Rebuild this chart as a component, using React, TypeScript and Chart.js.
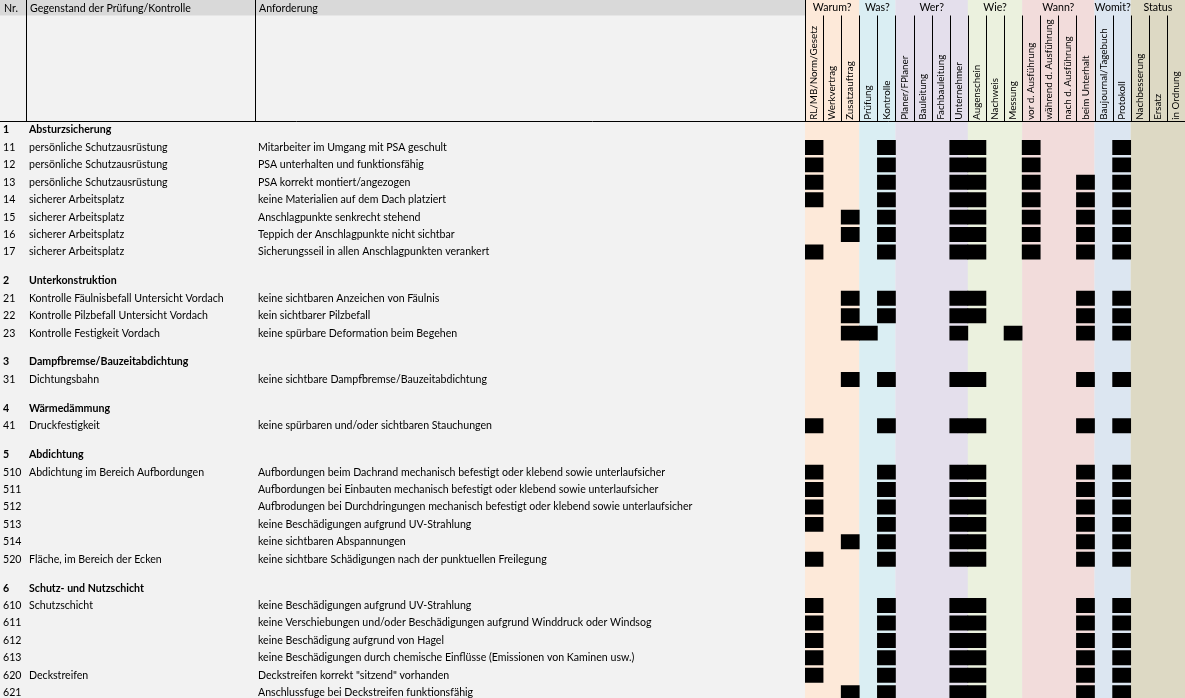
import React, { useEffect, useRef } from 'react';
import { Chart, registerables } from 'chart.js';

Chart.register(...registerables);

// ---------- data ----------
const headerLabels = ['Nr.', 'Gegenstand der Prüfung/Kontrolle', 'Anforderung'];

const groupLabels = ['Warum?', 'Was?', 'Wer?', 'Wie?', 'Wann?', 'Womit?', 'Status'];
const groupSizes = [3, 2, 4, 3, 4, 2, 3];

const columnLabels = [
  'RL/MB/Norm/Gesetz', 'Werkvertrag', 'Zusatzauftrag',
  'Prüfung', 'Kontrolle',
  'Planer/FPlaner', 'Bauleitung', 'Fachbauleitung', 'Unternehmer',
  'Augenschein', 'Nachweis', 'Messung',
  'vor d. Ausführung', 'während d. Ausführung', 'nach d. Ausführung', 'beim Unterhalt',
  'Baujournal/Tagebuch', 'Protokoll',
  'Nachbesserung', 'Ersatz', 'in Ordnung',
];

const rowNr = [
  '1', '11', '12', '13', '14', '15', '16', '17', '',
  '2', '21', '22', '23', '',
  '3', '31', '',
  '4', '41', '',
  '5', '510', '511', '512', '513', '514', '520', '',
  '6', '610', '611', '612', '613', '620', '621',
];

const rowSubject = [
  'Absturzsicherung', 'persönliche Schutzausrüstung', 'persönliche Schutzausrüstung', 'persönliche Schutzausrüstung',
  'sicherer Arbeitsplatz', 'sicherer Arbeitsplatz', 'sicherer Arbeitsplatz', 'sicherer Arbeitsplatz', '',
  'Unterkonstruktion', 'Kontrolle Fäulnisbefall Untersicht Vordach', 'Kontrolle Pilzbefall Untersicht Vordach', 'Kontrolle Festigkeit Vordach', '',
  'Dampfbremse/Bauzeitabdichtung', 'Dichtungsbahn', '',
  'Wärmedämmung', 'Druckfestigkeit', '',
  'Abdichtung', 'Abdichtung im Bereich Aufbordungen', '', '', '', '', 'Fläche, im Bereich der Ecken', '',
  'Schutz- und Nutzschicht', 'Schutzschicht', '', '', '', 'Deckstreifen', '',
];

const rowRequirement = [
  '', 'Mitarbeiter im Umgang mit PSA geschult', 'PSA unterhalten und funktionsfähig', 'PSA korrekt montiert/angezogen',
  'keine Materialien auf dem Dach platziert', 'Anschlagpunkte senkrecht stehend', 'Teppich der Anschlagpunkte nicht sichtbar',
  'Sicherungsseil in allen Anschlagpunkten verankert', '',
  '', 'keine sichtbaren Anzeichen von Fäulnis', 'kein sichtbarer Pilzbefall', 'keine spürbare Deformation beim Begehen', '',
  '', 'keine sichtbare Dampfbremse/Bauzeitabdichtung', '',
  '', 'keine spürbaren und/oder sichtbaren Stauchungen', '',
  '', 'Aufbordungen beim Dachrand mechanisch befestigt oder klebend sowie unterlaufsicher',
  'Aufbordungen bei Einbauten mechanisch befestigt oder klebend sowie unterlaufsicher',
  'Aufbrodungen bei Durchdringungen mechanisch befestigt oder klebend sowie unterlaufsicher',
  'keine Beschädigungen aufgrund UV-Strahlung', 'keine sichtbaren Abspannungen',
  'keine sichtbare Schädigungen nach der punktuellen Freilegung', '',
  '', 'keine Beschädigungen aufgrund UV-Strahlung',
  'keine Verschiebungen und/oder Beschädigungen aufgrund Winddruck oder Windsog',
  'keine Beschädigung aufgrund von Hagel',
  'keine Beschädigungen durch chemische Einflüsse (Emissionen von Kaminen usw.)',
  'Deckstreifen korrekt "sitzend" vorhanden', 'Anschlussfuge bei Deckstreifen funktionsfähig',
];

// column indices marked (black cells) per row
const rowMarks: number[][] = [
  [], [0, 4, 8, 9, 12, 17], [0, 4, 8, 9, 12, 17], [0, 4, 8, 9, 12, 15, 17], [0, 4, 8, 9, 12, 15, 17],
  [2, 4, 8, 9, 12, 15, 17], [2, 4, 8, 9, 12, 15, 17], [0, 4, 8, 9, 12, 15, 17], [],
  [], [2, 4, 8, 9, 15, 17], [2, 4, 8, 9, 15, 17], [2, 3, 8, 11, 15, 17], [],
  [], [2, 4, 8, 9, 15, 17], [],
  [], [0, 4, 8, 9, 15, 17], [],
  [], [0, 4, 8, 9, 15, 17], [0, 4, 8, 9, 15, 17], [0, 4, 8, 9, 15, 17], [0, 4, 8, 9, 15, 17],
  [2, 4, 8, 9, 15, 17], [0, 4, 8, 9, 15, 17], [],
  [], [0, 4, 8, 9, 15, 17], [0, 4, 8, 9, 15, 17], [0, 4, 8, 9, 15, 17], [0, 4, 8, 9, 15, 17],
  [0, 4, 8, 9, 15, 17], [2, 4, 8, 9, 15, 17],
];

// ---------- style / layout ----------
const W = 1185;
const H = 698;
const GRID_LEFT = 805;
const HEADER_BOTTOM = 121.3;
const ROW_PX = 17.42;
const BLANK_ROW = 0.66;
const CELL_INSET = 0.09;
const TEXT_X = [3, 29, 258];
const TOP_ROW_H = 15.5;
const FONT_FAMILY = 'Lato, "Noto Sans", sans-serif';
const FONT_SIZE = 10.6;
const ROTATED_FONT_SIZE = 9.8;
const GROUP_COLORS = ['#FDE9D9', '#DAEEF3', '#E4DFEC', '#EBF1DE', '#F2DCDB', '#DCE6F1', '#DDD9C4'];
const BODY_BG = '#F2F2F2';
const TOP_ROW_BG = '#D9D9D9';

const isBlank = (i: number) => rowNr[i] === '';
const isSection = (i: number) => rowNr[i].length === 1;

// row top positions in row units
const rowTop: number[] = [];
{
  let acc = 0;
  rowNr.forEach((_, i) => {
    rowTop.push(acc);
    acc += isBlank(i) ? BLANK_ROW : 1;
  });
}

export default function App() {
  const canvasRef = useRef<HTMLCanvasElement | null>(null);

  useEffect(() => {
    const canvas = canvasRef.current;
    if (!canvas) return;

    const points: { x: number; y: [number, number] }[] = [];
    rowMarks.forEach((cols, i) => {
      cols.forEach((c) => {
        points.push({ x: c + 0.5, y: [rowTop[i] + CELL_INSET, rowTop[i] + 1 - CELL_INSET] });
      });
    });

    const tablePlugin = {
      id: 'tableDecor',
      beforeDraw(chart: any) {
        const ctx = chart.ctx as CanvasRenderingContext2D;
        const xs = chart.scales.x;
        ctx.save();
        ctx.fillStyle = BODY_BG;
        ctx.fillRect(0, 0, W, H);
        ctx.fillStyle = TOP_ROW_BG;
        ctx.fillRect(0, 0, xs.getPixelForValue(0), TOP_ROW_H);
        let c = 0;
        groupSizes.forEach((n, g) => {
          const x0 = xs.getPixelForValue(c);
          const x1 = xs.getPixelForValue(c + n);
          ctx.fillStyle = GROUP_COLORS[g];
          ctx.fillRect(x0, 0, x1 - x0, H);
          c += n;
        });
        ctx.restore();
      },
      afterDraw(chart: any) {
        const ctx = chart.ctx as CanvasRenderingContext2D;
        const xs = chart.scales.x;
        const ys = chart.scales.y;
        const top = chart.chartArea.top;
        ctx.save();
        ctx.fillStyle = '#000';
        ctx.textBaseline = 'middle';
        ctx.textAlign = 'left';
        const normal = `${FONT_SIZE}px ${FONT_FAMILY}`;
        const bold = `bold ${FONT_SIZE}px ${FONT_FAMILY}`;

        // header texts
        ctx.font = normal;
        headerLabels.forEach((t, k) => ctx.fillText(t, TEXT_X[k] + 1, 8.5));

        // group labels
        let c = 0;
        ctx.textAlign = 'center';
        groupSizes.forEach((n, g) => {
          const x0 = xs.getPixelForValue(c);
          const x1 = xs.getPixelForValue(c + n);
          ctx.fillText(groupLabels[g], (x0 + x1) / 2, 8);
          c += n;
        });

        // rotated column labels
        ctx.textAlign = 'left';
        ctx.font = `${ROTATED_FONT_SIZE}px ${FONT_FAMILY}`;
        columnLabels.forEach((t, k) => {
          ctx.save();
          ctx.translate(xs.getPixelForValue(k + 0.5), top - 1.5);
          ctx.rotate(-Math.PI / 2);
          ctx.fillText(t, 0, 0);
          ctx.restore();
        });

        // rows
        rowNr.forEach((nr, i) => {
          if (isBlank(i)) return;
          const yc = ys.getPixelForValue(rowTop[i] + 0.5);
          ctx.font = isSection(i) ? bold : normal;
          ctx.fillText(nr, TEXT_X[0], yc);
          if (rowSubject[i]) ctx.fillText(rowSubject[i], TEXT_X[1], yc);
          if (rowRequirement[i]) ctx.fillText(rowRequirement[i], TEXT_X[2], yc);
        });

        // header lines
        ctx.strokeStyle = '#000';
        ctx.lineWidth = 1;
        ctx.beginPath();
        const lineBottom = Math.round(top) + 0.5;
        [26, 255, Math.round(xs.getPixelForValue(0))].forEach((x) => {
          ctx.moveTo(x + 0.5, 0);
          ctx.lineTo(x + 0.5, lineBottom);
        });
        for (let k = 1; k < columnLabels.length; k++) {
          const x = Math.round(xs.getPixelForValue(k)) + 0.5;
          ctx.moveTo(x, TOP_ROW_H);
          ctx.lineTo(x, lineBottom);
        }
        ctx.moveTo(0, lineBottom);
        ctx.lineTo(W, lineBottom);
        ctx.stroke();
        ctx.restore();
      },
    };

    const yMax = (H - HEADER_BOTTOM) / ROW_PX;

    const chart = new Chart(canvas, {
      type: 'bar',
      data: {
        datasets: [
          {
            label: 'Markierung',
            data: points as any,
            backgroundColor: '#000000',
            borderWidth: 0,
            grouped: false,
            barPercentage: 1,
            categoryPercentage: 1,
          } as any,
        ],
      },
      options: {
        responsive: false,
        animation: false,
        layout: { padding: { left: GRID_LEFT, top: HEADER_BOTTOM, right: 0, bottom: 0 } },
        scales: {
          x: {
            type: 'linear',
            min: 0,
            max: columnLabels.length,
            offset: false,
            display: false,
            ticks: { stepSize: 1 },
            grid: { display: false, offset: false },
          },
          y: {
            type: 'linear',
            min: 0,
            max: yMax,
            reverse: true,
            offset: false,
            display: false,
            grid: { display: false },
          },
        },
        plugins: {
          legend: { display: false },
          tooltip: { enabled: false },
        },
      },
      plugins: [tablePlugin],
    });

    return () => chart.destroy();
  }, []);

  return (
    <div style={{ position: 'fixed', left: 0, top: 0, width: W, height: H, overflow: 'hidden' }}>
      <canvas ref={canvasRef} width={W} height={H} style={{ display: 'block', width: W, height: H }} />
    </div>
  );
}
